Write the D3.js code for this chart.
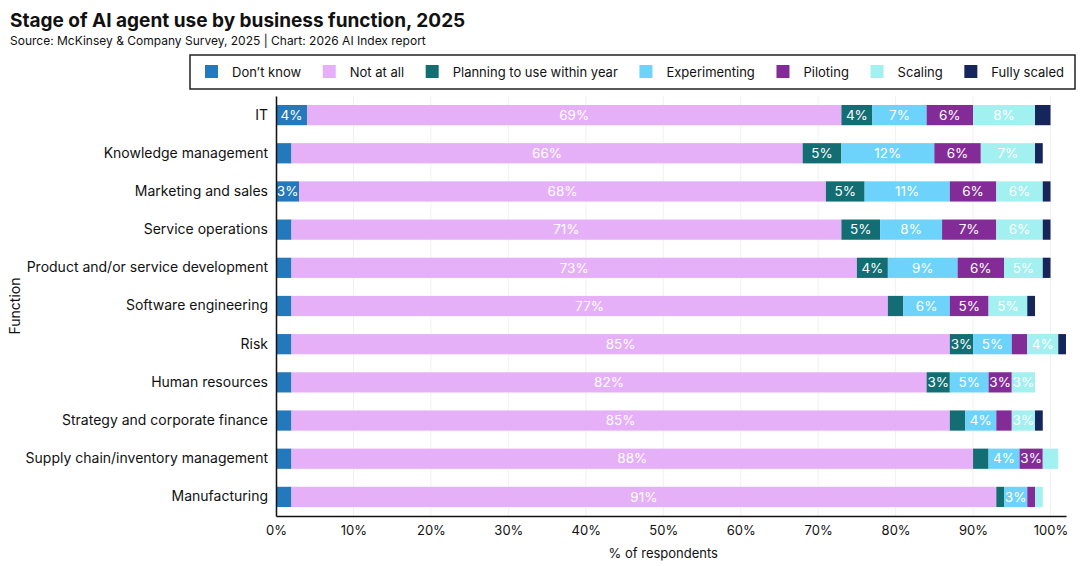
<!DOCTYPE html>
<html>
<head>
<meta charset="utf-8">
<script src="https://cdn.jsdelivr.net/npm/d3@7"></script>
<style>
  body { margin: 0; background: #fff; }
  svg { font-family: "Inter", "Lato", sans-serif; display: block; }
</style>
</head>
<body>
<svg id="chart" width="1080" height="566"></svg>
<script>
// data
const functions = [
  "IT",
  "Knowledge management",
  "Marketing and sales",
  "Service operations",
  "Product and/or service development",
  "Software engineering",
  "Risk",
  "Human resources",
  "Strategy and corporate finance",
  "Supply chain/inventory management",
  "Manufacturing",
];
const stages = ["Don’t know", "Not at all", "Planning to use within year", "Experimenting", "Piloting", "Scaling", "Fully scaled"];
const stageColors = ["#2479bd", "#e6b0f9", "#126e73", "#6dd3fb", "#832c98", "#a3f0f0", "#16255a"];

const dontKnow = [4, 2, 3, 2, 2, 2, 2, 2, 2, 2, 2];
const notAtAll = [69, 66, 68, 71, 73, 77, 85, 82, 85, 88, 91];
const planning = [4, 5, 5, 5, 4, 2, 3, 3, 2, 2, 1];
const experimenting = [7, 12, 11, 8, 9, 6, 5, 5, 4, 4, 3];
const piloting = [6, 6, 6, 7, 6, 5, 2, 3, 2, 3, 1];
const scaling = [8, 7, 6, 6, 5, 5, 4, 3, 3, 2, 1];
const fullyScaled = [2, 1, 1, 1, 1, 1, 1, 0, 1, 0, 0];

const xTicks = [0, 10, 20, 30, 40, 50, 60, 70, 80, 90, 100];

const series = [dontKnow, notAtAll, planning, experimenting, piloting, scaling, fullyScaled];
const rows = functions.map((f, i) => {
  const r = { name: f };
  stages.forEach((s, j) => (r[s] = series[j][i]));
  return r;
});

const svg = d3.select("#chart");
const margin = { left: 276, right: 14, top: 96, bottom: 50 };
const W = 1080, H = 566;

const x = d3.scaleLinear().domain([0, 102]).range([margin.left, W - margin.right]);
const y = d3.scaleBand().domain(functions).range([margin.top, H - margin.bottom]).paddingInner(0.47).paddingOuter(0.235);
const color = d3.scaleOrdinal().domain(stages).range(stageColors);

// title
svg.append("text").attr("x", 10).attr("y", 27)
  .attr("font-size", 19).attr("font-weight", 700).attr("fill", "#111")
  .text("Stage of AI agent use by business function, 2025");
svg.append("text").attr("x", 10).attr("y", 45)
  .attr("font-size", 12).attr("fill", "#111")
  .text("Source: McKinsey & Company Survey, 2025 | Chart: 2026 AI Index report");

// gridlines
svg.append("g").selectAll("line").data(xTicks).join("line")
  .attr("x1", d => x(d)).attr("x2", d => x(d))
  .attr("y1", margin.top).attr("y2", H - margin.bottom)
  .attr("stroke", "#f1f1f1");

// bars
const stack = d3.stack().keys(stages)(rows);
const layer = svg.append("g").selectAll("g").data(stack).join("g")
  .attr("fill", d => color(d.key));
layer.selectAll("rect").data(d => d).join("rect")
  .attr("x", d => x(d[0]))
  .attr("y", d => y(d.data.name))
  .attr("width", d => x(d[1]) - x(d[0]))
  .attr("height", y.bandwidth());

// value labels
svg.append("g").selectAll("g").data(stack).join("g")
  .selectAll("text").data(d => d.filter(v => v[1] - v[0] >= 3)).join("text")
  .attr("x", d => (x(d[0]) + x(d[1])) / 2)
  .attr("y", d => y(d.data.name) + y.bandwidth() / 2)
  .attr("dy", "0.35em")
  .attr("text-anchor", "middle")
  .attr("font-size", 13.5)
  .attr("fill", "#fff")
  .text(d => (d[1] - d[0]) + "%");

// axes
const yAxis = svg.append("g").attr("transform", `translate(${margin.left},0)`)
  .call(d3.axisLeft(y).tickSize(0).tickPadding(8));
yAxis.select(".domain").attr("stroke", "#111").attr("stroke-width", 1.5);
yAxis.selectAll("text").attr("font-size", 14).attr("fill", "#111").attr("font-family", "Inter, sans-serif");

const xAxis = svg.append("g").attr("transform", `translate(0,${H - margin.bottom})`)
  .call(d3.axisBottom(x).tickValues(xTicks).tickSize(0).tickPadding(10).tickFormat(d => d + "%"));
xAxis.select(".domain").attr("stroke", "#111").attr("stroke-width", 1.5);
xAxis.selectAll("text").attr("font-size", 13).attr("fill", "#111").attr("font-family", "Inter, sans-serif");

svg.append("text").attr("x", (x(0) + x(100)) / 2).attr("y", 558)
  .attr("text-anchor", "middle").attr("font-size", 13).attr("fill", "#111")
  .text("% of respondents");
svg.append("text").attr("transform", `translate(20,${(margin.top + H - margin.bottom) / 2}) rotate(-90)`)
  .attr("text-anchor", "middle").attr("font-size", 14).attr("fill", "#111")
  .text("Function");

// legend: items spread to fill the box
const legend = svg.append("g");
legend.append("rect").attr("x", 190).attr("y", 55).attr("width", 885).attr("height", 34)
  .attr("fill", "#fff").attr("stroke", "#222").attr("stroke-width", 1.5);
const items = stages.map((s) => {
  const g = legend.append("g");
  g.append("rect").attr("y", 65).attr("width", 13).attr("height", 13).attr("fill", color(s));
  const t = g.append("text").attr("x", 27).attr("y", 72).attr("dy", "0.35em")
    .attr("font-size", 13).attr("fill", "#111").text(s);
  return { g, w: 27 + t.node().getComputedTextLength() };
});
const legStart = 205, legEnd = 1064;
const gap = (legEnd - legStart - d3.sum(items, d => d.w)) / (items.length - 1);
let lx = legStart;
items.forEach((it) => {
  it.g.attr("transform", `translate(${lx},0)`);
  lx += it.w + gap;
});
</script>
</body>
</html>
